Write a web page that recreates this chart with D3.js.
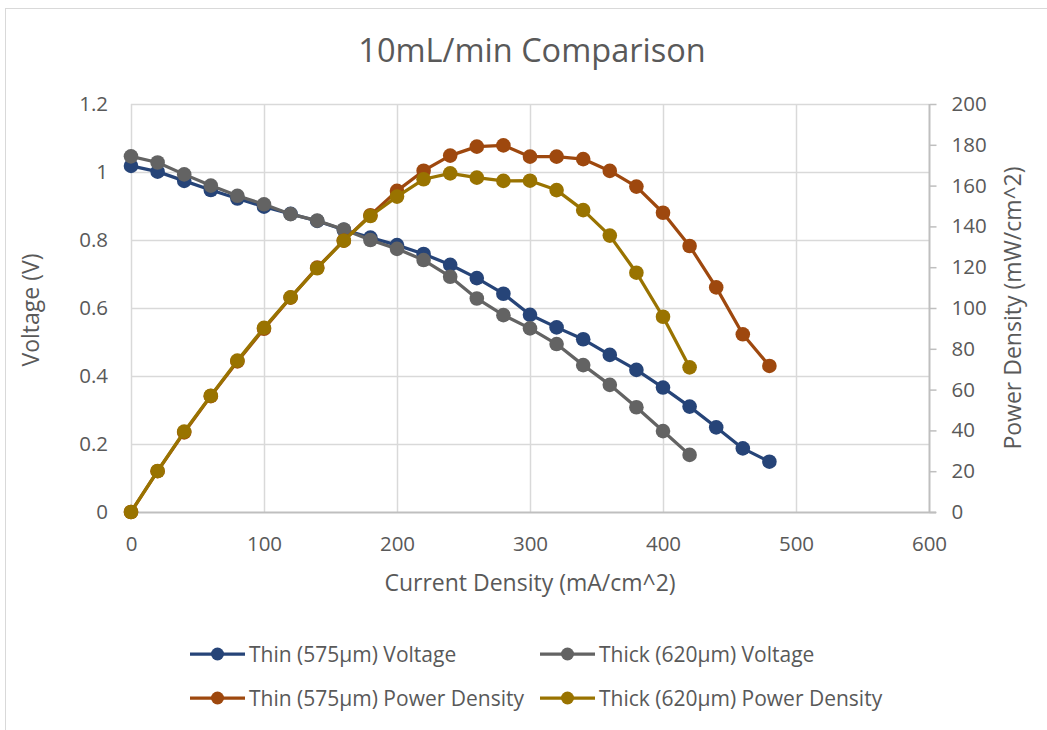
<!DOCTYPE html>
<html>
<head>
<meta charset="utf-8">
<script src="https://cdn.jsdelivr.net/npm/d3@7"></script>
<style>
  html, body { margin: 0; padding: 0; background: #fff; }
  svg { display: block; font-family: "Open Sans", sans-serif; }
</style>
</head>
<body>
<svg id="chart" width="1047" height="730"></svg>
<script>
// Current density steps (mA/cm^2)
const currentThin  = [0,20,40,60,80,100,120,140,160,180,200,220,240,260,280,300,320,340,360,380,400,420,440,460,480];
const currentThick = [0,20,40,60,80,100,120,140,160,180,200,220,240,260,280,300,320,340,360,380,400,420];

// Cell voltage (V)
const voltageThin  = [1.018,1.001,0.974,0.947,0.922,0.898,0.877,0.856,0.830,0.807,0.785,0.759,0.727,0.688,0.642,0.580,0.543,0.508,0.462,0.418,0.366,0.310,0.249,0.187,0.148];
const voltageThick = [1.046,1.028,0.993,0.960,0.930,0.905,0.876,0.857,0.831,0.800,0.774,0.741,0.692,0.628,0.579,0.540,0.494,0.432,0.374,0.308,0.238,0.168];

// Power density (mW/cm^2)
const powerThin  = [0,20.0,39.0,56.8,73.8,89.8,105.1,119.8,133.0,145.5,157.4,167.3,174.7,179.1,179.7,174.2,174.2,173.0,167.2,159.5,146.7,130.4,110.1,87.1,71.6];
const powerThick = [0,20.1,39.4,57.0,74.2,90.3,105.2,119.5,133.0,145.1,154.6,163.1,166.0,163.9,162.3,162.4,157.8,148.0,135.5,117.3,95.7,70.9];

// Axis ticks
const xTicks = [0,100,200,300,400,500,600];
const yLeftTicks = [0,0.2,0.4,0.6,0.8,1,1.2];
const yRightTicks = [0,20,40,60,80,100,120,140,160,180,200];

const seriesNames = ["Thin (575\u00b5m) Voltage","Thick (620\u00b5m) Voltage","Thin (575\u00b5m) Power Density","Thick (620\u00b5m) Power Density"];
const seriesColors = ["#264478","#636363","#9e480e","#997300"];

const svg = d3.select("#chart");
const textColor = "#595959";
const gridColor = "#d9d9d9";
const axisColor = "#bfbfbf";
const tickFont = 20.5;
const titleFont = 23;
const legendFont = 21;

const plot = {left: 131, right: 929, top: 104, bottom: 512};

const x = d3.scaleLinear().domain([0,600]).range([plot.left, plot.right]);
const yL = d3.scaleLinear().domain([0,1.2]).range([plot.bottom, plot.top]);
const yR = d3.scaleLinear().domain([0,200]).range([plot.bottom, plot.top]);

// chart frame
svg.append("rect").attr("x",5.5).attr("y",8.5).attr("width",1100).attr("height",800)
  .attr("fill","none").attr("stroke","#d9d9d9").attr("stroke-width",1);

// title
svg.append("text").attr("x",532).attr("y",62).attr("text-anchor","middle")
  .attr("font-size",32.5).attr("fill",textColor).text("10mL/min Comparison");

// gridlines
const grid = svg.append("g");
grid.selectAll("line.h").data(yLeftTicks.slice(1)).join("line")
  .attr("x1",plot.left).attr("x2",plot.right)
  .attr("y1",d=>Math.round(yL(d))+0.5).attr("y2",d=>Math.round(yL(d))+0.5)
  .attr("stroke",gridColor).attr("stroke-width",1.5);
grid.selectAll("line.v").data(xTicks.slice(0,-1)).join("line")
  .attr("y1",plot.top).attr("y2",plot.bottom)
  .attr("x1",d=>Math.round(x(d))+0.5).attr("x2",d=>Math.round(x(d))+0.5)
  .attr("stroke",gridColor).attr("stroke-width",1.5);

// bottom axis
const xAxis = d3.axisBottom(x).tickValues(xTicks).tickSize(0).tickPadding(24).tickFormat(d3.format("d"));
const gx = svg.append("g").attr("transform",`translate(0,${plot.bottom+0.5})`).call(xAxis);
gx.select(".domain").attr("stroke",axisColor).attr("stroke-width",2).attr("d",`M${plot.left},0H${plot.right+7}`);
gx.selectAll("text").attr("font-size",tickFont).attr("fill",textColor).attr("font-family","Open Sans");

// left axis (labels only)
const yLAxis = d3.axisLeft(yL).tickValues(yLeftTicks).tickSize(0).tickPadding(23).tickFormat(d=>d3.format("")(+d.toFixed(1)));
const gl = svg.append("g").attr("transform",`translate(${plot.left},0)`).call(yLAxis);
gl.select(".domain").remove();
gl.selectAll("text").attr("font-size",tickFont).attr("fill",textColor).attr("font-family","Open Sans");

// right axis with outside ticks
const yRAxis = d3.axisRight(yR).tickValues(yRightTicks).tickSize(7).tickPadding(15).tickFormat(d3.format("d"));
const gr = svg.append("g").attr("transform",`translate(${plot.right+0.5},0)`).call(yRAxis);
gr.select(".domain").attr("stroke",axisColor).attr("stroke-width",2).attr("d",`M0,${plot.top}V${plot.bottom}`);
gr.selectAll(".tick line").attr("stroke",axisColor).attr("stroke-width",1.5);
gr.selectAll("text").attr("font-size",tickFont).attr("fill",textColor).attr("font-family","Open Sans");

// axis titles
svg.append("text").attr("x",530).attr("y",591).attr("text-anchor","middle")
  .attr("font-size",titleFont).attr("fill",textColor).text("Current Density (mA/cm^2)");
svg.append("text").attr("transform",`translate(39,310) rotate(-90)`).attr("text-anchor","middle")
  .attr("font-size",titleFont).attr("fill",textColor).text("Voltage (V)");
svg.append("text").attr("transform",`translate(1021,308) rotate(-90)`).attr("text-anchor","middle")
  .attr("font-size",titleFont).attr("fill",textColor).text("Power Density (mW/cm^2)");

// series
const series = [
  {xs: currentThin,  ys: voltageThin,  scale: yL},
  {xs: currentThick, ys: voltageThick, scale: yL},
  {xs: currentThin,  ys: powerThin,    scale: yR},
  {xs: currentThick, ys: powerThick,   scale: yR}
];

series.forEach((s,i) => {
  const pts = s.xs.map((c,j) => [c, s.ys[j]]);
  const g = svg.append("g");
  g.append("path").datum(pts)
    .attr("d", d3.line().x(d=>x(d[0])).y(d=>s.scale(d[1])))
    .attr("fill","none").attr("stroke",seriesColors[i]).attr("stroke-width",3.25)
    .attr("stroke-linejoin","round");
  g.selectAll("circle").data(pts).join("circle")
    .attr("cx",d=>x(d[0])).attr("cy",d=>s.scale(d[1])).attr("r",7.3)
    .attr("fill",seriesColors[i]);
});

// legend
const legendPos = [[190,654],[540,654],[190,698],[540,698]];
seriesNames.forEach((name,i) => {
  const [lx,ly] = legendPos[i];
  const g = svg.append("g").attr("transform",`translate(${lx},${ly})`);
  g.append("line").attr("x1",0).attr("x2",55).attr("y1",0).attr("y2",0)
    .attr("stroke",seriesColors[i]).attr("stroke-width",3.25);
  g.append("circle").attr("cx",27.5).attr("cy",0).attr("r",6.5).attr("fill",seriesColors[i]);
  g.append("text").attr("x",59).attr("y",7.5).attr("font-size",legendFont).attr("fill",textColor).text(name);
});
</script>
</body>
</html>
